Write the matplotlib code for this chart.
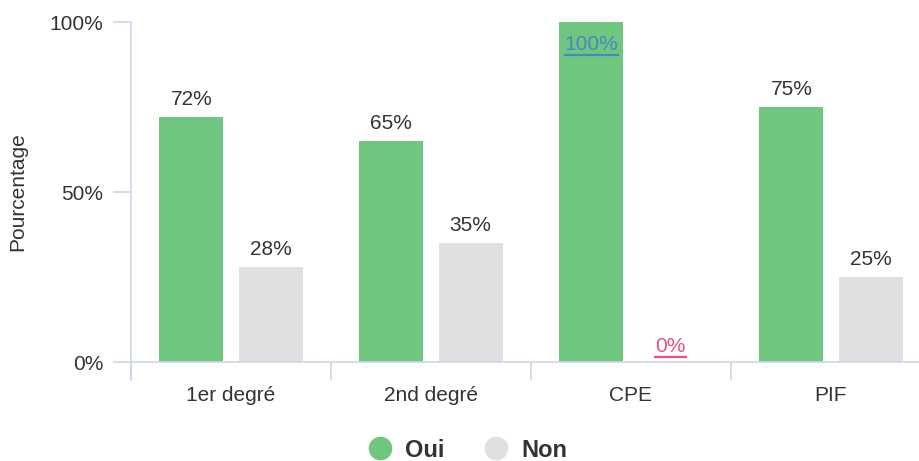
import matplotlib.pyplot as plt
from matplotlib.lines import Line2D

categories = ['1er degré', '2nd degré', 'CPE', 'PIF']
oui = [72, 65, 100, 75]
non = [28, 35, 0, 25]
series_names = ['Oui', 'Non']
ytick_values = [0, 50, 100]

GREEN = '#6fc77f'
GREY = '#e0e0e0'
AXIS = '#ccd6eb'
TEXT = '#333333'

plt.rcParams['font.family'] = ['Liberation Sans', 'DejaVu Sans']

W, H = 920, 461
fig = plt.figure(figsize=(W / 100, H / 100), dpi=100)
ax = fig.add_axes([131 / W, (H - 362) / H, (920 - 131) / W, (362 - 22) / H])

x = list(range(len(categories)))
bw = 0.32
off = 0.198
bars_oui = ax.bar([i - off for i in x], oui, width=bw, color=GREEN, zorder=2)
bars_non = ax.bar([i + off for i in x], non, width=bw, color=GREY, zorder=2)

ax.set_xlim(-0.5, 3.445)
ax.set_ylim(0, 100)

for s in ['top', 'right']:
    ax.spines[s].set_visible(False)
for s in ['left', 'bottom']:
    ax.spines[s].set_color(AXIS)
    ax.spines[s].set_linewidth(1.2)

# y axis continues a little below the baseline
ax.plot([-0.5, -0.5], [0, -5.3], color=AXIS, lw=1.2, clip_on=False, zorder=3)

ax.set_yticks(ytick_values)
ax.set_yticklabels([f'{v}%' for v in ytick_values])
ax.tick_params(axis='y', length=13, width=1.2, color=AXIS, labelsize=15,
               labelcolor=TEXT, pad=7)

# category separators as major ticks, names on minor ticks
ax.set_xticks([-0.5, 0.5, 1.5, 2.5])
ax.set_xticklabels([])
ax.set_xticks(x, minor=True)
ax.set_xticklabels(categories, minor=True)
ax.tick_params(axis='x', which='major', length=13, width=1.2, color=AXIS)
ax.tick_params(axis='x', which='minor', length=0, labelsize=15,
               labelcolor=TEXT, pad=17)

ax.set_ylabel('Pourcentage', fontsize=15, color=TEXT, labelpad=16)

underlined = []
for bars, vals in [(bars_oui, oui), (bars_non, non)]:
    for b, v in zip(bars, vals):
        cx = b.get_x() + b.get_width() / 2
        if v == 100:
            t = ax.text(cx, v - 6.6, f'{v}%', ha='center', va='center',
                        fontsize=15, color='#4a86c0', zorder=4)
            underlined.append(t)
        elif v == 0:
            t = ax.text(cx, v + 4.5, f'{v}%', ha='center', va='center',
                        fontsize=15, color='#e8508a', zorder=4)
            underlined.append(t)
        else:
            ax.text(cx, v + 2.4, f'{v}%', ha='center', va='bottom',
                    fontsize=15, color=TEXT, zorder=4)

fig.canvas.draw()
renderer = fig.canvas.get_renderer()
inv = fig.transFigure.inverted()
for t in underlined:
    bb = t.get_window_extent(renderer)
    (x0, y0), (x1, y1) = inv.transform([(bb.x0, bb.y0 - 1), (bb.x1, bb.y0 - 1)])
    fig.add_artist(Line2D([x0, x1], [y0, y1], color=t.get_color(), lw=1.6))

handles = [Line2D([], [], marker='o', ls='', markersize=16, color=c)
           for c in [GREEN, GREY]]
leg = fig.legend(handles, series_names, loc='center', bbox_to_anchor=(462 / W, 1 - 450 / H),
                 ncol=2, frameon=False, handletextpad=0.05, columnspacing=1.2,
                 prop={'size': 17, 'weight': 'bold'})
for txt in leg.get_texts():
    txt.set_color(TEXT)

fig.savefig('out.png', dpi=100)
